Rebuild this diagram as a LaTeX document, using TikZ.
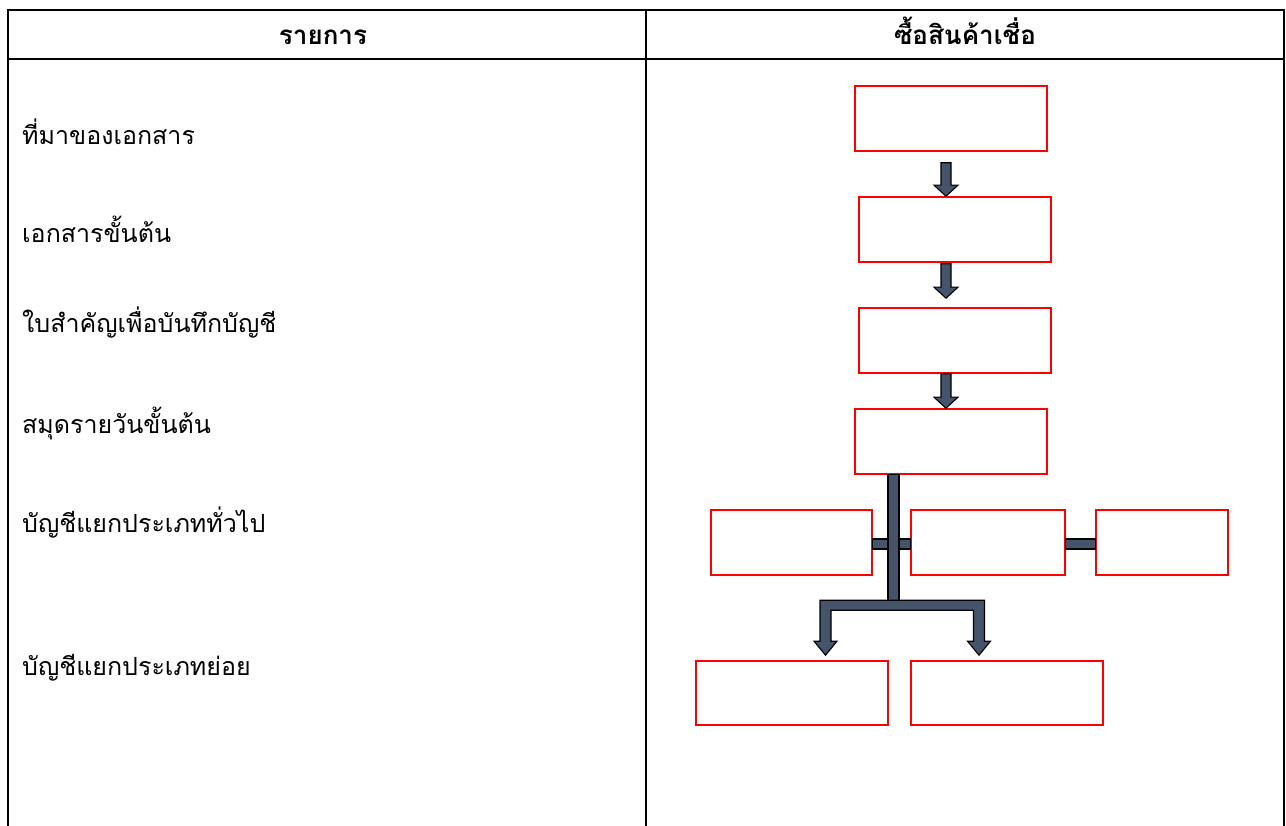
\documentclass[tikz,border=0pt]{standalone}
\usepackage{fontspec}
\newfontfamily\thai[Script=Thai]{Loma}
\usetikzlibrary{calc}
\definecolor{slate}{HTML}{44546A}
\tikzset{
  x=1pt,y=-1pt,
  rulebox/.style={draw=red,line width=1.6pt,minimum width=#1,minimum height=65pt,inner sep=0pt},
  blk/.style={fill=slate,draw=black,line width=1.1pt,line join=miter},
  tbl/.style={line width=2.8pt,black},
  lbl/.style={anchor=base west,font=\thai\fontsize{25}{28}\selectfont,inner sep=0pt},
  hdr/.style={anchor=base,font=\thai\bfseries\fontsize{26}{29}\selectfont,inner sep=0pt}
}
\newcommand\blkdown[2]{%
  \draw[blk] let \p1=(#1), \p2=(#2) in
    (\x2-5pt,\y1) -- (\x2+5pt,\y1) -- (\x2+5pt,\y2+11pt) -- (\x2+12pt,\y2+11pt)
    -- (\x2,\y2) -- (\x2-12pt,\y2+11pt) -- (\x2-5pt,\y2+11pt) -- cycle;}
\begin{document}
\begin{tikzpicture}
\useasboundingbox (0,0) rectangle (1286,826);
% table
\draw[tbl] (8,826) -- (8,10) -- (1284,10) -- (1284,826);
\draw[tbl] (8,59) -- (1284,59);
\draw[tbl] (646,10) -- (646,826);
\node[hdr] (h1) at (323,45) {รายการ};
\node[hdr] (h2) at (965,45) {ซื้อสินค้าเชื่อ};
% left labels
\node[lbl] (l1) at (22,145) {ที่มาของเอกสาร};
\node[lbl] (l2) at (22,243) {เอกสารขั้นต้น};
\node[lbl] (l3) at (22,333) {ใบสำคัญเพื่อบันทึกบัญชี};
\node[lbl] (l4) at (22,433) {สมุดรายวันขั้นต้น};
\node[lbl] (l5) at (22,532) {บัญชีแยกประเภททั่วไป};
\node[lbl] (l6) at (22,675) {บัญชีแยกประเภทย่อย};
% boxes
\node[rulebox=192pt] (b1) at (951,118.5) {};
\node[rulebox=192pt] (b2) at (955,229.5) {};
\node[rulebox=192pt] (b3) at (955,340.5) {};
\node[rulebox=192pt] (b4) at (951,441.5) {};
\node[rulebox=161pt] (r1) at (791.5,542.5) {};
\node[rulebox=154pt] (r2) at (988,542.5) {};
\node[rulebox=132pt] (r3) at (1162,542.5) {};
\node[rulebox=192pt,minimum height=64pt] (d1) at (792,693) {};
\node[rulebox=192pt,minimum height=64pt] (d2) at (1007,693) {};
% down arrows
\blkdown{$(b1.south)+(0,11)$}{$(b2.north)+(-9,0)$}
\blkdown{$(b2.south)+(0,1)$}{$(b3.north)+(-9,-9)$}
\blkdown{$(b3.south)$}{$(b4.north)+(-5,0)$}
% side connectors
\draw[blk] ($(r1.east)+(0,-3.5)$) rectangle ($(r2.west)+(0,6.5)$);
\draw[blk] ($(r2.east)+(0,-3.5)$) rectangle ($(r3.west)+(0,6.5)$);
% stem
\draw[blk] ($(b4.south)+(-63,0)$) rectangle ($(b4.south)+(-52,127)$);
% T-bar with two arrows
\draw[blk] let \p1=($(d1.north)+(33.5,-5)$), \p2=($(d2.north)+(-28,-5)$) in
  (\x1-5.5pt,\y1+55pt) -- (\x2+5.5pt,\y1+55pt) -- (\x2+5.5pt,\y2+14pt) -- (\x2+11.5pt,\y2+14pt)
  -- (\x2,\y2) -- (\x2-11.5pt,\y2+14pt) -- (\x2-5.5pt,\y2+14pt) -- (\x2-5.5pt,\y1+45pt)
  -- (\x1+5.5pt,\y1+45pt) -- (\x1+5.5pt,\y1+14pt) -- (\x1+11.5pt,\y1+14pt) -- (\x1,\y1)
  -- (\x1-11.5pt,\y1+14pt) -- (\x1-5.5pt,\y1+14pt) -- cycle;
\end{tikzpicture}
\end{document}
